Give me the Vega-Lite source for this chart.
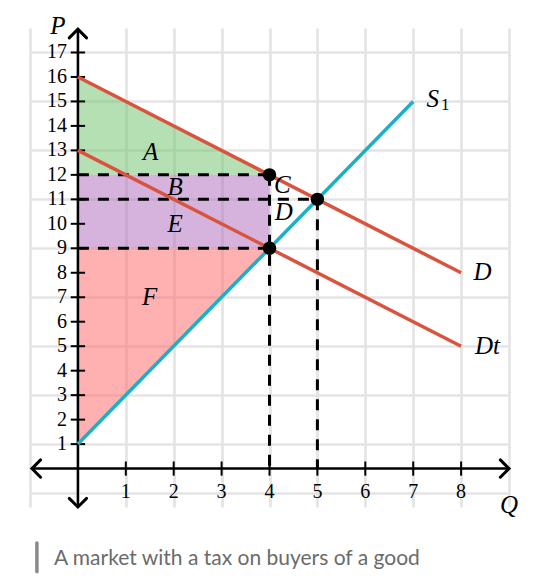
{
  "$schema": "https://vega.github.io/schema/vega-lite/v6.json",
  "width": 479,
  "height": 479,
  "autosize": {"type": "none"},
  "padding": {"left": 30, "top": 28, "right": 32, "bottom": 75},
  "background": "white",
  "config": {
    "view": {"stroke": null},
    "axis": {"grid": true, "gridColor": "#e4e4e4", "gridWidth": 2.7, "labels": false, "ticks": false, "domain": false, "title": null}
  },
  "datasets": {
    "areas": [
      {"region": "A", "q": 0, "p": 16, "p2": 12},
      {"region": "A", "q": 4, "p": 12, "p2": 12},
      {"region": "BE", "q": 0, "p": 12, "p2": 9},
      {"region": "BE", "q": 4, "p": 12, "p2": 9},
      {"region": "F", "q": 0, "p": 9, "p2": 1},
      {"region": "F", "q": 4, "p": 9, "p2": 9}
    ],
    "dashes": [
      {"q": 0, "p": 12, "q2": 4, "p2": 12},
      {"q": 0, "p": 11, "q2": 5, "p2": 11},
      {"q": 0, "p": 9, "q2": 4, "p2": 9},
      {"q": 4, "p": 12, "q2": 4, "p2": 0},
      {"q": 5, "p": 11, "q2": 5, "p2": 0}
    ],
    "axislines": [
      {"q": -0.96, "p": 0, "q2": 9.0, "p2": 0},
      {"q": 0, "p": -1.57, "q2": 0, "p2": 17.95}
    ],
    "ticks": [
      {"q": -0.15, "p": 1, "q2": 0.15, "p2": 1},
      {"q": -0.15, "p": 2, "q2": 0.15, "p2": 2},
      {"q": -0.15, "p": 3, "q2": 0.15, "p2": 3},
      {"q": -0.15, "p": 4, "q2": 0.15, "p2": 4},
      {"q": -0.15, "p": 5, "q2": 0.15, "p2": 5},
      {"q": -0.15, "p": 6, "q2": 0.15, "p2": 6},
      {"q": -0.15, "p": 7, "q2": 0.15, "p2": 7},
      {"q": -0.15, "p": 8, "q2": 0.15, "p2": 8},
      {"q": -0.15, "p": 9, "q2": 0.15, "p2": 9},
      {"q": -0.15, "p": 10, "q2": 0.15, "p2": 10},
      {"q": -0.15, "p": 11, "q2": 0.15, "p2": 11},
      {"q": -0.15, "p": 12, "q2": 0.15, "p2": 12},
      {"q": -0.15, "p": 13, "q2": 0.15, "p2": 13},
      {"q": -0.15, "p": 14, "q2": 0.15, "p2": 14},
      {"q": -0.15, "p": 15, "q2": 0.15, "p2": 15},
      {"q": -0.15, "p": 16, "q2": 0.15, "p2": 16},
      {"q": -0.15, "p": 17, "q2": 0.15, "p2": 17},
      {"q": 1, "p": -0.29, "q2": 1, "p2": 0.29},
      {"q": 2, "p": -0.29, "q2": 2, "p2": 0.29},
      {"q": 3, "p": -0.29, "q2": 3, "p2": 0.29},
      {"q": 4, "p": -0.29, "q2": 4, "p2": 0.29},
      {"q": 5, "p": -0.29, "q2": 5, "p2": 0.29},
      {"q": 6, "p": -0.29, "q2": 6, "p2": 0.29},
      {"q": 7, "p": -0.29, "q2": 7, "p2": 0.29},
      {"q": 8, "p": -0.29, "q2": 8, "p2": 0.29}
    ],
    "arrows": [
      {"q": 0, "p": 17.95, "dir": "up"},
      {"q": 0, "p": -1.57, "dir": "down"},
      {"q": -0.96, "p": 0, "dir": "left"},
      {"q": 9.0, "p": 0, "dir": "right"}
    ],
    "curves": [
      {"curve": "D", "q": 0, "p": 16},
      {"curve": "D", "q": 8, "p": 8},
      {"curve": "Dt", "q": 0, "p": 13},
      {"curve": "Dt", "q": 8, "p": 5},
      {"curve": "S1", "q": 0, "p": 1},
      {"curve": "S1", "q": 7, "p": 15}
    ],
    "dots": [
      {"q": 4, "p": 12},
      {"q": 5, "p": 11},
      {"q": 4, "p": 9}
    ],
    "ylabels": [
      {"p": 1, "t": "1"}, {"p": 2, "t": "2"}, {"p": 3, "t": "3"}, {"p": 4, "t": "4"},
      {"p": 5, "t": "5"}, {"p": 6, "t": "6"}, {"p": 7, "t": "7"}, {"p": 8, "t": "8"},
      {"p": 9, "t": "9"}, {"p": 10, "t": "10"}, {"p": 11, "t": "11"}, {"p": 12, "t": "12"},
      {"p": 13, "t": "13"}, {"p": 14, "t": "14"}, {"p": 15, "t": "15"}, {"p": 16, "t": "16"},
      {"p": 17, "t": "17"}
    ],
    "xlabels": [
      {"q": 1, "t": "1"}, {"q": 2, "t": "2"}, {"q": 3, "t": "3"}, {"q": 4, "t": "4"},
      {"q": 5, "t": "5"}, {"q": 6, "t": "6"}, {"q": 7, "t": "7"}, {"q": 8, "t": "8"}
    ],
    "letters": [
      {"q": 1.52, "p": 12.95, "t": "A"},
      {"q": 2.03, "p": 11.5, "t": "B"},
      {"q": 4.27, "p": 11.6, "t": "C"},
      {"q": 4.3, "p": 10.5, "t": "D"},
      {"q": 2.03, "p": 10.0, "t": "E"},
      {"q": 1.5, "p": 7.0, "t": "F"},
      {"q": 7.41, "p": 15.1, "t": "S"},
      {"q": 8.45, "p": 8.05, "t": "D"},
      {"q": 8.55, "p": 5.02, "t": "Dt"},
      {"q": -0.42, "p": 18.1, "t": "P"},
      {"q": 9.0, "p": -1.48, "t": "Q"}
    ],
    "subs": [
      {"q": 7.67, "p": 14.85, "t": "1"}
    ],
    "caption": [
      {"q": -0.5, "p": -3.94, "t": "A market with a tax on buyers of a good"}
    ],
    "captionbar": [
      {"q": -0.856, "p": -3.04, "p2": -4.22}
    ]
  },
  "layer": [
    {
      "data": {"name": "areas"},
      "mark": {"type": "area", "opacity": 0.5},
      "encoding": {
        "x": {"field": "q", "type": "quantitative", "scale": {"domain": [-1, 9], "nice": false, "zero": false}, "axis": {"values": [-1, 0, 1, 2, 3, 4, 5, 6, 7, 8, 9]}},
        "y": {"field": "p", "type": "quantitative", "scale": {"domain": [-1.57, 18], "nice": false, "zero": false}, "axis": {"values": [-1, 0, 1, 2, 3, 4, 5, 6, 7, 8, 9, 10, 11, 12, 13, 14, 15, 16, 17, 18]}},
        "y2": {"field": "p2"},
        "fill": {"field": "region", "type": "nominal", "scale": {"domain": ["A", "BE", "F"], "range": ["#6cc16a", "#ad67b9", "#ff6161"]}, "legend": null}
      }
    },
    {
      "data": {"name": "dashes"},
      "mark": {"type": "rule", "color": "black", "strokeWidth": 3, "strokeDash": [11, 9]},
      "encoding": {
        "x": {"field": "q", "type": "quantitative"},
        "y": {"field": "p", "type": "quantitative"},
        "x2": {"field": "q2"},
        "y2": {"field": "p2"}
      }
    },
    {
      "data": {"name": "axislines"},
      "mark": {"type": "rule", "color": "black", "strokeWidth": 2.5},
      "encoding": {
        "x": {"field": "q", "type": "quantitative"},
        "y": {"field": "p", "type": "quantitative"},
        "x2": {"field": "q2"},
        "y2": {"field": "p2"}
      }
    },
    {
      "data": {"name": "ticks"},
      "mark": {"type": "rule", "color": "black", "strokeWidth": 2},
      "encoding": {
        "x": {"field": "q", "type": "quantitative"},
        "y": {"field": "p", "type": "quantitative"},
        "x2": {"field": "q2"},
        "y2": {"field": "p2"}
      }
    },
    {
      "data": {"name": "arrows"},
      "mark": {"type": "point", "filled": false, "stroke": "black", "strokeWidth": 3, "size": 300, "opacity": 1, "strokeCap": "round", "strokeJoin": "miter"},
      "encoding": {
        "x": {"field": "q", "type": "quantitative"},
        "y": {"field": "p", "type": "quantitative"},
        "shape": {"field": "dir", "type": "nominal", "scale": {"domain": ["up", "down", "left", "right"], "range": ["M -1 1 L 0 0 L 1 1", "M -1 -1 L 0 0 L 1 -1", "M 1 -1 L 0 0 L 1 1", "M -1 -1 L 0 0 L -1 1"]}, "legend": null}
      }
    },
    {
      "data": {"name": "curves"},
      "mark": {"type": "line", "strokeWidth": 3.5, "strokeCap": "butt"},
      "encoding": {
        "x": {"field": "q", "type": "quantitative"},
        "y": {"field": "p", "type": "quantitative"},
        "stroke": {"field": "curve", "type": "nominal", "scale": {"domain": ["D", "Dt", "S1"], "range": ["#d9543f", "#d9543f", "#1cafc6"]}, "legend": null}
      }
    },
    {
      "data": {"name": "dots"},
      "mark": {"type": "circle", "color": "black", "size": 180, "opacity": 1},
      "encoding": {
        "x": {"field": "q", "type": "quantitative"},
        "y": {"field": "p", "type": "quantitative"}
      }
    },
    {
      "data": {"name": "ylabels"},
      "mark": {"type": "text", "align": "right", "baseline": "middle", "font": "Liberation Serif", "fontSize": 20, "color": "black"},
      "encoding": {
        "x": {"datum": -0.23, "type": "quantitative"},
        "y": {"field": "p", "type": "quantitative"},
        "text": {"field": "t"}
      }
    },
    {
      "data": {"name": "xlabels"},
      "mark": {"type": "text", "align": "center", "baseline": "middle", "font": "Liberation Serif", "fontSize": 20, "color": "black"},
      "encoding": {
        "x": {"field": "q", "type": "quantitative"},
        "y": {"datum": -0.95, "type": "quantitative"},
        "text": {"field": "t"}
      }
    },
    {
      "data": {"name": "letters"},
      "mark": {"type": "text", "align": "center", "baseline": "middle", "font": "Liberation Serif", "fontStyle": "italic", "fontSize": 25, "color": "black"},
      "encoding": {
        "x": {"field": "q", "type": "quantitative"},
        "y": {"field": "p", "type": "quantitative"},
        "text": {"field": "t"}
      }
    },
    {
      "data": {"name": "subs"},
      "mark": {"type": "text", "align": "center", "baseline": "middle", "font": "Liberation Serif", "fontSize": 17, "color": "black"},
      "encoding": {
        "x": {"field": "q", "type": "quantitative"},
        "y": {"field": "p", "type": "quantitative"},
        "text": {"field": "t"}
      }
    },
    {
      "data": {"name": "captionbar"},
      "mark": {"type": "rule", "color": "#8a8a8a", "strokeWidth": 3.5, "strokeCap": "round"},
      "encoding": {
        "x": {"field": "q", "type": "quantitative"},
        "y": {"field": "p", "type": "quantitative"},
        "y2": {"field": "p2"}
      }
    },
    {
      "data": {"name": "caption"},
      "mark": {"type": "text", "align": "left", "baseline": "alphabetic", "font": "Lato", "fontSize": 21, "color": "#6b6b6b"},
      "encoding": {
        "x": {"field": "q", "type": "quantitative"},
        "y": {"field": "p", "type": "quantitative"},
        "text": {"field": "t"}
      }
    }
  ]
}
